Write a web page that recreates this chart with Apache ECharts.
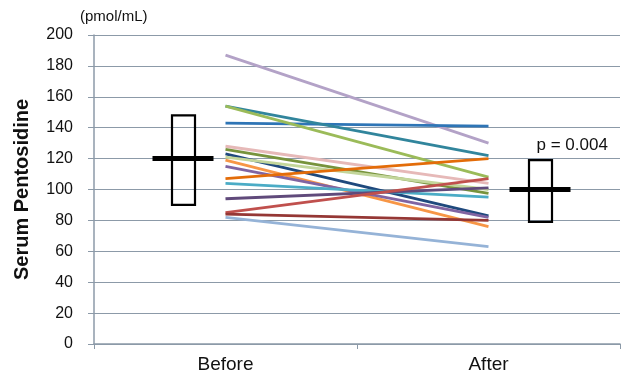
<!DOCTYPE html>
<html><head><meta charset="utf-8">
<script src="https://cdn.jsdelivr.net/npm/echarts@6/dist/echarts.min.js"></script>
<style>html,body{margin:0;padding:0;background:#fff}#c{width:625px;height:379px}</style>
</head><body><div id="c"></div>
<script>
const categories = ['Before', 'After'];
const yTicks = [0, 20, 40, 60, 80, 100, 120, 140, 160, 180, 200];
// each subject: [before, after]
const subjBefore = [187, 143, 154, 154, 128, 126, 123, 121, 119, 115, 107, 104, 94, 85, 84, 82];
const subjAfter  = [130, 141, 122, 108, 104, 97.5, 83, 100, 76, 82, 120, 95, 101, 107, 80, 63];
const subjColors = ['#b3a2c7', '#2e75b6', '#31859c', '#9bbb59', '#e6b9b8', '#77933c', '#1f497d', '#c3d69b',
                    '#f79646', '#8064a2', '#e36c09', '#4bacc6', '#604a7b', '#c0504d', '#953735', '#95b3d7'];
// summary boxes: low, high, median
const boxLow = [90, 79];
const boxHigh = [148, 119];
const boxMedian = [120, 100];
const pLabel = 'p = 0.004';

const FONT = '"Liberation Sans", Arial, sans-serif';
const series = subjBefore.map((b, i) => ({
  type: 'line', xAxisIndex: 0, yAxisIndex: 0, symbol: 'none', silent: true,
  data: [b, subjAfter[i]],
  lineStyle: { color: subjColors[i], width: 2.8 }, z: 3
}));
const boxOffset = [-42, 52];
series.push({
  type: 'custom', xAxisIndex: 0, yAxisIndex: 0, z: 5, silent: true,
  data: categories.map((c, i) => [i, boxLow[i], boxHigh[i], boxMedian[i]]),
  renderItem: function (params, api) {
    const i = api.value(0);
    const cx = api.coord([i, 0])[0] + boxOffset[i];
    const yl = api.coord([i, api.value(1)])[1];
    const yh = api.coord([i, api.value(2)])[1];
    const ym = api.coord([i, api.value(3)])[1];
    const children = [
      { type: 'rect', shape: { x: cx - 11.5, y: yh, width: 23, height: yl - yh },
        style: { fill: 'rgba(255,255,255,0)', stroke: '#000', lineWidth: 2.2 } },
      { type: 'line', shape: { x1: cx - 31, y1: ym, x2: cx + 30, y2: ym },
        style: { stroke: '#000', lineWidth: 5 } }
    ];
    if (i === 1) {
      children.push({ type: 'text', x: cx - 4, y: yh - 15,
        style: { text: pLabel, font: '17px ' + FONT, fill: '#111', verticalAlign: 'middle' } });
    }
    return { type: 'group', children: children };
  }
});

const chart = echarts.init(document.getElementById('c'), null, { renderer: 'canvas' });
chart.setOption({
  animation: false,
  backgroundColor: '#fff',
  grid: { left: 94, right: 5, top: 35, bottom: 35 },
  graphic: [
    { type: 'text', left: 80, top: 9, style: { text: '(pmol/mL)', font: '15px ' + FONT, fill: '#111' } }
  ],
  xAxis: [{
    type: 'category', data: categories, boundaryGap: true,
    axisLine: { lineStyle: { color: '#8c9aa8', width: 1.5 } },
    axisTick: { show: true, length: 5, lineStyle: { color: '#8c9aa8' } },
    axisLabel: { fontSize: 19, fontFamily: FONT, color: '#111', margin: 11 }
  }],
  yAxis: [{
    type: 'value', min: yTicks[0], max: yTicks[yTicks.length - 1], interval: 20,
    name: 'Serum Pentosidine', nameLocation: 'middle', nameGap: 62, nameRotate: 90,
    nameTextStyle: { fontSize: 20, fontWeight: 'bold', fontFamily: FONT, color: '#111' },
    axisLine: { show: true, lineStyle: { color: '#8c9aa8', width: 1.5 } },
    axisTick: { show: true, length: 6, lineStyle: { color: '#8c9aa8' } },
    axisLabel: { fontSize: 16, fontFamily: FONT, color: '#111', margin: 21 },
    splitLine: { show: true, lineStyle: { color: '#8c9aa8', width: 1.2 } }
  }],
  series: series
});
</script></body></html>
